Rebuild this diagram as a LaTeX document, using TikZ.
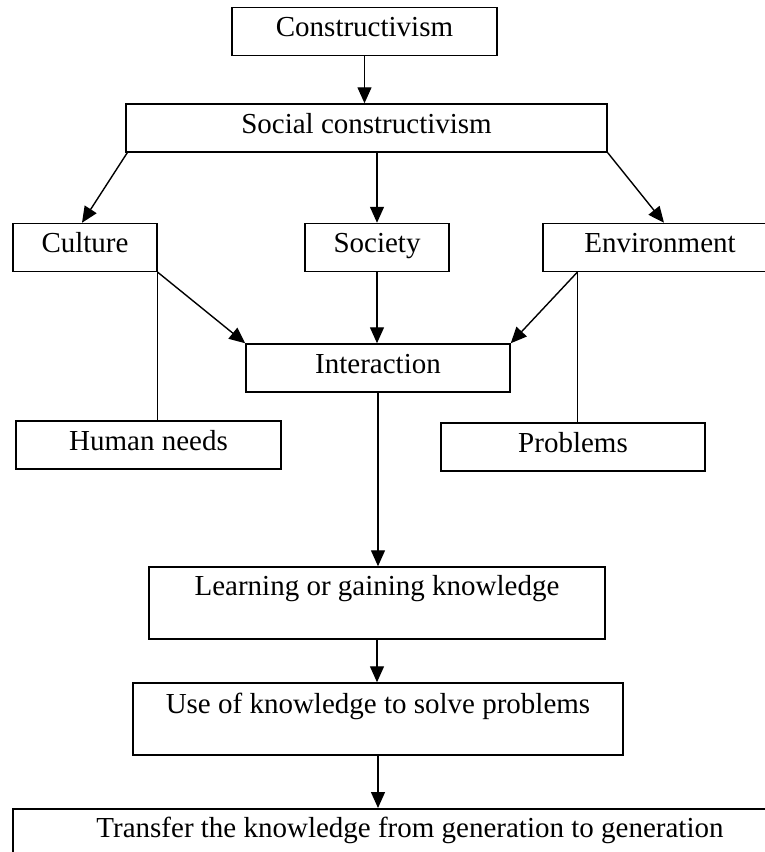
\documentclass[tikz,border=0pt]{standalone}
\usepackage{fontspec}
\setmainfont{Liberation Serif}
\usepackage{tikz}
\usetikzlibrary{arrows.meta}
\tikzstyle{box} = [rectangle, draw=black, line width=1.5pt, inner sep=0pt, text height=29pt, text depth=19pt, text centered]
\tikzstyle{tallbox} = [box, text height=29pt, text depth=43pt]
\tikzstyle{arrow} = [line width=1.4pt, -{Triangle[length=16pt,width=14pt]}]
\tikzstyle{leg} = [line width=1.3pt]

\begin{document}
\begin{tikzpicture}[x=1pt, y=-1pt, font=\fontsize{29}{34}\selectfont]
	\useasboundingbox[fill=white] (0,0) rectangle (765,852);
	\clip (0,0) rectangle (765,852);

	\node (construct) [box, minimum width=265pt] at (364.5,31.5) {Constructivism};
	\node (social) [box, minimum width=481pt] at (366.5,128) {Social constructivism};
	\node (culture) [box, minimum width=144pt] at (85,247.5) {Culture};
	\node (society) [box, minimum width=144pt] at (377,247.5) {Society};
	\node (environ) [box, minimum width=234pt] at (660,247.5) {Environment};
	\node (interact) [box, minimum width=264pt] at (378,368) {Interaction};
	\node (needs) [box, minimum width=265pt] at (148.5,445) {Human needs};
	\node (problems) [box, minimum width=264pt] at (573,447) {Problems};
	\node (learning) [tallbox, minimum width=456pt, text height=28pt, text depth=44pt] at (377,603) {Learning or gaining knowledge};
	\node (useknow) [tallbox, minimum width=490pt, text height=30pt, text depth=42pt] at (378,719) {Use of knowledge to solve problems};
	\node (transfer) [tallbox, minimum width=794pt, anchor=north, text depth=50pt] at (410,808) {Transfer the knowledge from generation to generation};

	\coordinate (envleg) at ([xshift=35pt]environ.south west);

	\draw [arrow] (construct) -- (construct |- social.north);
	\draw [arrow] ([xshift=2pt]social.south west) -- ([xshift=-3pt]culture.north);
	\draw [arrow] (society.north |- social.south) -- (society.north);
	\draw [arrow] (social.south east) -- ([xshift=4pt]environ.north);
	\draw [arrow] (culture.south east) -- (interact.north west);
	\draw [arrow] (society.south) -- (society.south |- interact.north);
	\draw [arrow] (envleg) -- (interact.north east);
	\draw [leg] (culture.south east) -- (culture.south east |- needs.north);
	\draw [leg] (envleg) -- (envleg |- problems.north);
	\draw [arrow] (interact.south) -- (interact.south |- learning.north);
	\draw [arrow] (learning.south) -- (learning.south |- useknow.north);
	\draw [arrow] (useknow.south) -- (useknow.south |- transfer.north);
\end{tikzpicture}
\end{document}
